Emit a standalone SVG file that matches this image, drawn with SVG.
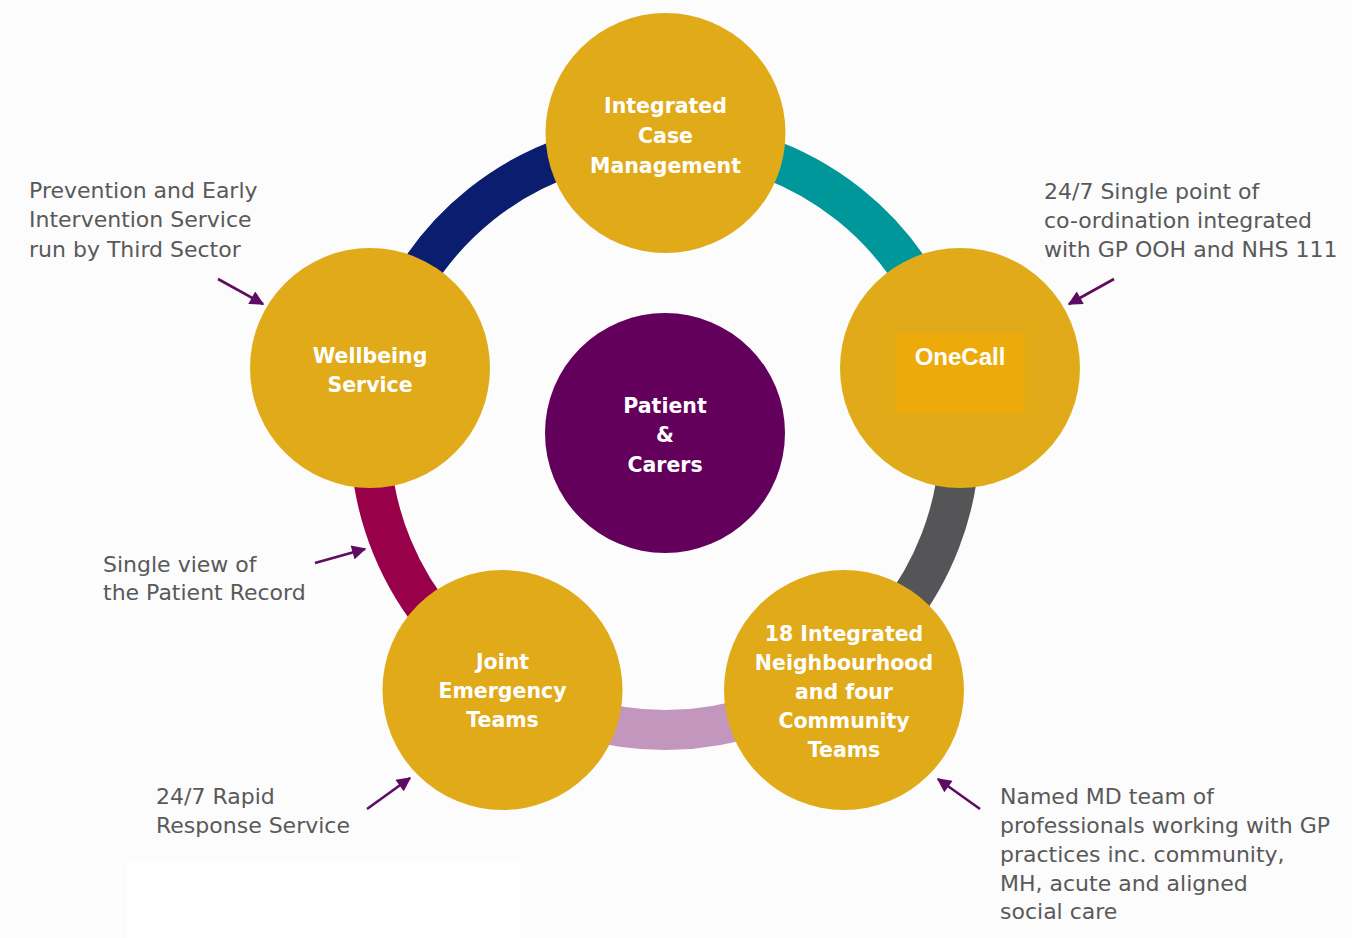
<svg xmlns="http://www.w3.org/2000/svg" width="1352" height="938" viewBox="0 0 1352 938">
  <defs>
    <style>
      .bg { fill: #fcfcfc; }
      .ring { fill: none; stroke-width: 40; }
      .node { fill: #e1aa19; }
      .hub { fill: #62005b; }
      .label { font-family: "DejaVu Sans", "Liberation Sans", sans-serif; font-weight: bold; font-size: 20.5px; fill: #ffffff; text-anchor: middle; }
      .note { font-family: "DejaVu Sans", "Liberation Sans", sans-serif; font-size: 22px; fill: #595959; }
      .pointer { stroke: #5e0b63; stroke-width: 2.6; fill: none; marker-end: url(#head); }
    </style>
    <marker id="head" viewBox="0 0 10 10" refX="9" refY="5" markerWidth="6" markerHeight="5.5" orient="auto" markerUnits="strokeWidth">
      <path d="M0,0 L10,5 L0,10 z" fill="#5e0b63"/>
    </marker>
  </defs>

  <rect class="bg" x="0" y="0" width="1352" height="938"/>
  <rect x="127" y="861" width="393" height="77" fill="#ffffff"/>

  <!-- coloured ring linking the five services -->
  <g id="connectors">
    <path class="ring" stroke="#00979b" d="M665,140 A295,295 0 0 1 952.7,369.6"/>
    <path class="ring" stroke="#555457" d="M952.7,369.6 A295,295 0 0 1 834.6,676.3"/>
    <path class="ring" stroke="#c396be" d="M834.6,676.3 A295,295 0 0 1 506.1,683.5"/>
    <path class="ring" stroke="#98004a" d="M506.1,683.5 A295,295 0 0 1 377.3,369.6"/>
    <path class="ring" stroke="#0a1d6e" d="M377.3,369.6 A295,295 0 0 1 665,140"/>

    <!-- annotation pointers -->
    <line class="pointer" x1="218" y1="279" x2="263" y2="304"/>
    <line class="pointer" x1="1114" y1="279" x2="1069" y2="304"/>
    <line class="pointer" x1="315" y1="563" x2="365" y2="549"/>
    <line class="pointer" x1="367" y1="809" x2="410" y2="778"/>
    <line class="pointer" x1="980" y1="809" x2="938" y2="779"/>
  </g>

  <g id="node-case-management">
    <circle class="node" cx="665.5" cy="133" r="120"/>
    <text class="label" x="665.5" y="113">Integrated</text>
    <text class="label" x="665.5" y="143">Case</text>
    <text class="label" x="665.5" y="173">Management</text>
  </g>

  <g id="node-onecall">
    <circle class="node" cx="960" cy="368" r="120"/>
    <rect x="895" y="333" width="130" height="80" fill="#ecab0b"/>
    <text x="960" y="365" text-anchor="middle" font-family="'Liberation Sans', Arial, sans-serif" font-weight="bold" font-size="24" fill="#ffffff">OneCall</text>
  </g>

  <g id="node-neighbourhood-teams">
    <circle class="node" cx="844" cy="690" r="120"/>
    <text class="label" x="844" y="641">18 Integrated</text>
    <text class="label" x="844" y="670">Neighbourhood</text>
    <text class="label" x="844" y="699">and four</text>
    <text class="label" x="844" y="728">Community</text>
    <text class="label" x="844" y="757">Teams</text>
  </g>

  <g id="node-joint-emergency">
    <circle class="node" cx="502.5" cy="690" r="120"/>
    <text class="label" x="502.5" y="669">Joint</text>
    <text class="label" x="502.5" y="698">Emergency</text>
    <text class="label" x="502.5" y="727">Teams</text>
  </g>

  <g id="node-wellbeing">
    <circle class="node" cx="370" cy="368" r="120"/>
    <text class="label" x="370" y="363">Wellbeing</text>
    <text class="label" x="370" y="392">Service</text>
  </g>

  <g id="node-patient">
    <circle class="hub" cx="665" cy="433" r="120"/>
    <text class="label" x="665" y="413">Patient</text>
    <text class="label" x="665" y="442">&amp;</text>
    <text class="label" x="665" y="472">Carers</text>
  </g>

  <g id="note-prevention">
    <text class="note" x="29" y="198">Prevention and Early</text>
    <text class="note" x="29" y="227">Intervention Service</text>
    <text class="note" x="29" y="257">run by Third Sector</text>
  </g>

  <g id="note-single-point">
    <text class="note" x="1044" y="199">24/7 Single point of</text>
    <text class="note" x="1044" y="228">co-ordination integrated</text>
    <text class="note" x="1044" y="257">with GP OOH and NHS 111</text>
  </g>

  <g id="note-patient-record">
    <text class="note" x="103" y="572">Single view of</text>
    <text class="note" x="103" y="600">the Patient Record</text>
  </g>

  <g id="note-rapid-response">
    <text class="note" x="156" y="804">24/7 Rapid</text>
    <text class="note" x="156" y="833">Response Service</text>
  </g>

  <g id="note-md-team">
    <text class="note" x="1000" y="804">Named MD team of</text>
    <text class="note" x="1000" y="833">professionals working with GP</text>
    <text class="note" x="1000" y="862">practices inc. community,</text>
    <text class="note" x="1000" y="891">MH, acute and aligned</text>
    <text class="note" x="1000" y="919">social care</text>
  </g>
</svg>
